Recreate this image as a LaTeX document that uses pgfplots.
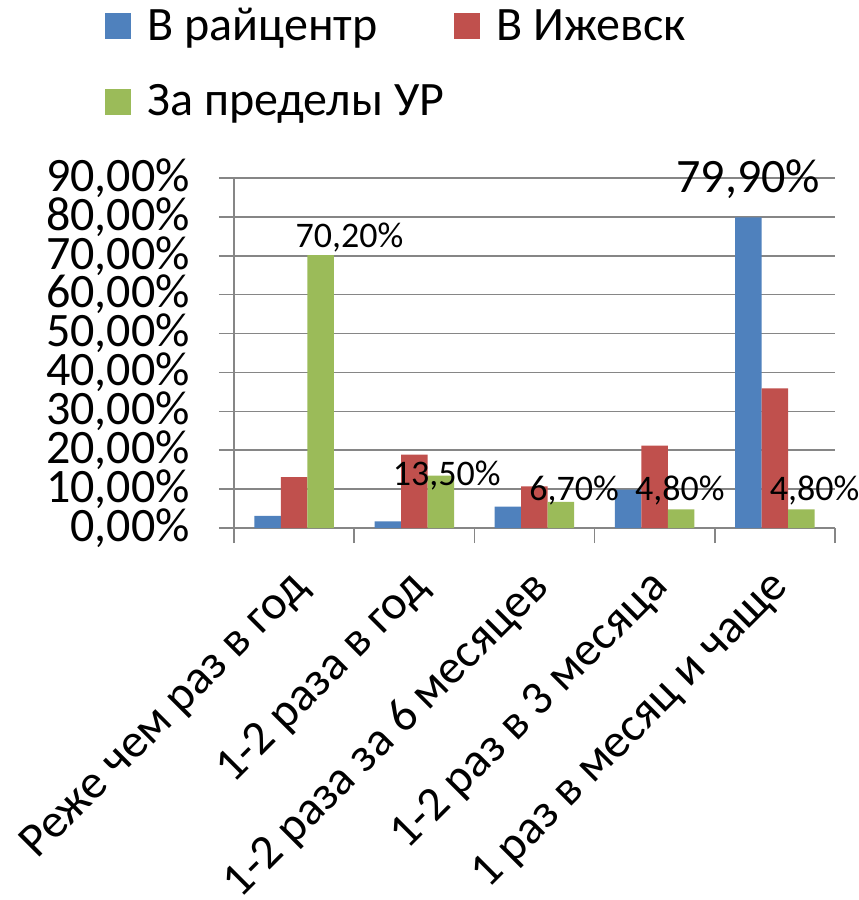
\documentclass[border=0pt]{standalone}
\usepackage{pgfplots}
\pgfplotsset{compat=1.18}
\usepackage{fontspec}
\setmainfont{Carlito}
\definecolor{cblue}{HTML}{4F81BD}
\definecolor{cred}{HTML}{C0504D}
\definecolor{cgreen}{HTML}{9BBB59}
\definecolor{cgrid}{HTML}{868686}
\newcommand{\fbig}{\fontsize{24}{28}\selectfont}
\newcommand{\fmid}{\fontsize{18}{21}\selectfont}
\begin{document}
\begin{tikzpicture}
\begin{axis}[
  name=ax,
  scale only axis, width=300.5pt, height=175pt,
  ymin=0, ymax=90, xmin=-0.5, xmax=4.5,
  clip=false,
  ybar=0pt, bar width=13.25pt,
  axis x line=bottom, axis y line=left,
  axis line style={-, draw=cgrid, line width=0.8pt},
  every outer x axis line/.append style={-},
  every outer y axis line/.append style={-},
  ytick={0,10,...,90},
  ymajorgrids, grid style={draw=cgrid, line width=0.8pt},
  xtick={-0.5,0.5,...,4.5}, xticklabels={},
  tick align=outside, major tick length=7.5pt,
  tick style={draw=cgrid, line width=0.8pt},
  /pgf/number format/assume math mode=true,
  yticklabel={\pgfmathprintnumber[fixed,fixed zerofill,precision=2,use comma]{\tick}\%},
  yticklabel style={font=\fbig, xshift=-11pt},
  extra x ticks={0,1,2,3,4},
  extra x tick labels={Реже чем раз в год, 1-2 раза в год, 1-2 раза за 6 месяцев, 1-2 раз в 3 месяца, 1 раз в месяц и чаще},
  extra x tick style={grid=none, major tick length=0pt,
    tick label style={rotate=45, anchor=north east, font=\fbig, inner sep=0pt, xshift=-15.9pt, yshift=-11pt}},
  legend columns=2,
  legend cell align=left,
  legend style={at={(-0.2146,1.497)}, anchor=north west, draw=none, fill=none, font=\fbig, inner sep=0pt,
    row sep=16.5pt, nodes={inner sep=2pt},
    /tikz/every odd column/.append style={column sep=6pt},
    /tikz/every even column/.append style={column sep=3pt}},
  legend image code/.code={\fill[#1] (0pt,-6.5pt) rectangle (13pt,6.5pt);},
]
\addplot[fill=cblue, draw=none] coordinates {(0,3.1) (1,1.7) (2,5.5) (3,9.9) (4,79.9)};
\addplot[fill=cred, draw=none] coordinates {(0,13.1) (1,18.9) (2,10.7) (3,21.2) (4,35.9)};
\addplot[fill=cgreen, draw=none] coordinates {(0,70.2) (1,13.5) (2,6.7) (3,4.8) (4,4.8)};
\legend{В райцентр, В Ижевск, За пределы УР}
\node[font=\fmid] at (axis cs:0.46,74.8) {70,20\%};
\node[font=\fmid] at (axis cs:1.27,13.4) {13,50\%};
\node[font=\fmid] at (axis cs:2.33,9.6) {6,70\%};
\node[font=\fmid] at (axis cs:3.21,9.6) {4,80\%};
\node[font=\fmid] at (axis cs:4.33,9.6) {4,80\%};
\node[font=\fbig] at (axis cs:3.78,89.6) {79,90\%};
\end{axis}
\pgfresetboundingbox
\path[use as bounding box] ([xshift=-117pt,yshift=-186pt]ax.south west) rectangle ([xshift=312pt,yshift=264pt]ax.south west);
\end{tikzpicture}
\end{document}
